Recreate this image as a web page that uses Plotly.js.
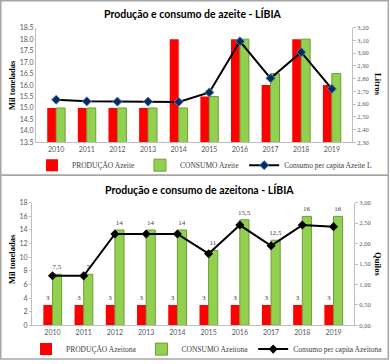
<!DOCTYPE html>
<html>
<head>
<meta charset="utf-8">
<script src="https://cdn.plot.ly/plotly-3.0.1.min.js"></script>
<style>
html,body{margin:0;padding:0;background:#fff;}
#chart{width:390px;height:364px;}
</style>
</head>
<body>
<div id="chart"></div>
<script>
// ---- Data ----
const years = ["2010","2011","2012","2013","2014","2015","2016","2017","2018","2019"];

// Azeite (olive oil)
const producaoAzeite = [15, 15, 15, 15, 18, 15.5, 18, 16, 18, 16];
const consumoAzeite = [15, 15, 15, 15, 15, 15.5, 18, 16.5, 18, 16.5];
const perCapitaAzeite = [2.635, 2.622, 2.62, 2.62, 2.618, 2.692, 3.093, 2.803, 3.008, 2.72];
const azeiteLeftTicks = [13.5, 14.0, 14.5, 15.0, 15.5, 16.0, 16.5, 17.0, 17.5, 18.0, 18.5];

// Azeitona (olives)
const producaoAzeitona = [3, 3, 3, 3, 3, 3, 3, 3, 3, 3];
const consumoAzeitona = [7.5, 7.5, 14, 14, 14, 11, 15.5, 12.5, 16, 16];
const producaoAzeitonaLabels = ["3","3","3","3","3","3","3","3","3","3"];
const consumoAzeitonaLabels = ["7,5","7","14","14","14","11","15,5","12,5","16","16"];
const perCapitaAzeitona = [1.215, 1.212, 2.237, 2.237, 2.235, 1.754, 2.454, 1.947, 2.454, 2.415];

// ---- Styles ----
const W = 390, H = 364;
const px = v => v / W;
const py = v => 1 - v / H;
const RED = '#ff0000', GREEN = '#92d050', GREEN_EDGE = '#6f9c35';
const SANS = 'Lato, "Liberation Sans", sans-serif';
const SERIF = '"Liberation Serif", "DejaVu Serif", serif';

const traces = [
  {type:'bar', name:'PRODUÇÃO Azeite', x:years, y:producaoAzeite, xaxis:'x', yaxis:'y',
   marker:{color:RED}, legend:'legend', hoverinfo:'skip'},
  {type:'bar', name:'CONSUMO Azeite', x:years, y:consumoAzeite, xaxis:'x', yaxis:'y',
   marker:{color:GREEN, line:{color:GREEN_EDGE, width:1}}, legend:'legend', hoverinfo:'skip'},
  {type:'scatter', mode:'lines+markers', name:'Consumo per capita Azeite L', x:years, y:perCapitaAzeite,
   xaxis:'x', yaxis:'y2', line:{color:'#000000', width:2},
   marker:{symbol:'diamond', size:7, color:'#0b2a5c', line:{color:'#4f81bd', width:1}},
   legend:'legend', hoverinfo:'skip'},

  {type:'bar', name:'PRODUÇÃO Azeitona', x:years, y:producaoAzeitona, xaxis:'x2', yaxis:'y3',
   marker:{color:RED}, text:producaoAzeitonaLabels, textposition:'outside', constraintext:'none',
   cliponaxis:false, textfont:{family:SERIF, size:7, color:'#404040'}, legend:'legend2', hoverinfo:'skip'},
  {type:'bar', name:'CONSUMO Azeitona', x:years, y:consumoAzeitona, xaxis:'x2', yaxis:'y3',
   marker:{color:GREEN, line:{color:GREEN_EDGE, width:1}}, text:consumoAzeitonaLabels,
   textposition:'outside', constraintext:'none', cliponaxis:false,
   textfont:{family:SERIF, size:7, color:'#404040'}, legend:'legend2', hoverinfo:'skip'},
  {type:'scatter', mode:'lines+markers', name:'Consumo per capita Azeitona', x:years, y:perCapitaAzeitona,
   xaxis:'x2', yaxis:'y4', line:{color:'#000000', width:2},
   marker:{symbol:'diamond', size:7, color:'#000000'}, legend:'legend2', hoverinfo:'skip'}
];

const axisLine = '#bfbfbf';
const tickFontL = {family:SANS, size:7, color:'#595959'};
const tickFontR = {family:SERIF, size:6.5, color:'#595959'};

const layout = {
  width:W, height:H, margin:{l:0,r:0,t:0,b:0},
  paper_bgcolor:'#ffffff', plot_bgcolor:'#ffffff',
  separators:',.',
  barmode:'group', bargap:0.415, bargroupgap:0,
  showlegend:true,
  xaxis:{domain:[px(36), px(352)], anchor:'y', type:'category', showgrid:false,
    showline:true, linecolor:axisLine, linewidth:1, ticks:'', tickfont:tickFontL, fixedrange:true},
  yaxis:{domain:[py(144), py(28)], anchor:'x', range:[13.5,18.5], tickvals:azeiteLeftTicks,
    ticktext:azeiteLeftTicks.map(v=>v.toFixed(1)), showgrid:false, zeroline:false,
    showline:true, linecolor:axisLine, linewidth:1, ticks:'', tickfont:tickFontL, fixedrange:true},
  yaxis2:{overlaying:'y', side:'right', anchor:'x', range:[2.3,3.2], dtick:0.1, tick0:2.3,
    tickformat:'.2f', showgrid:false, zeroline:false, showline:true, linecolor:axisLine, linewidth:1,
    ticks:'outside', ticklen:3, tickcolor:axisLine, tickfont:tickFontR, fixedrange:true},

  xaxis2:{domain:[px(32), px(354)], anchor:'y3', type:'category', showgrid:false,
    showline:true, linecolor:axisLine, linewidth:1, ticks:'', tickfont:tickFontL, fixedrange:true},
  yaxis3:{domain:[py(329), py(205)], anchor:'x2', range:[0,18], dtick:2, showgrid:false, zeroline:false,
    showline:true, linecolor:axisLine, linewidth:1, ticks:'outside', ticklen:2, tickcolor:axisLine,
    tickfont:tickFontL, fixedrange:true},
  yaxis4:{overlaying:'y3', side:'right', anchor:'x2', range:[0,3], dtick:0.5, tickformat:'.2f',
    showgrid:false, zeroline:false, showline:true, linecolor:axisLine, linewidth:1,
    ticks:'outside', ticklen:3, tickcolor:axisLine, tickfont:tickFontR, fixedrange:true},

  legend:{orientation:'h', x:px(205), xanchor:'center', y:py(167), yanchor:'middle',
    font:{family:SERIF, size:7.5, color:'#404040'}, bgcolor:'rgba(0,0,0,0)', itemwidth:30, tracegroupgap:0},
  legend2:{orientation:'h', x:px(207), xanchor:'center', y:py(353), yanchor:'middle',
    font:{family:SERIF, size:7.5, color:'#404040'}, bgcolor:'rgba(0,0,0,0)', itemwidth:30, tracegroupgap:0},

  annotations:[
    {text:'<b>Produção e consumo de azeite - LÍBIA</b>', xref:'paper', yref:'paper',
     x:px(193), y:py(14), xanchor:'center', yanchor:'middle', showarrow:false,
     font:{family:SANS, size:10.5, color:'#000000'}},
    {text:'<b>Produção e consumo de azeitona - LÍBIA</b>', xref:'paper', yref:'paper',
     x:px(199), y:py(192), xanchor:'center', yanchor:'middle', showarrow:false,
     font:{family:SANS, size:10.5, color:'#000000'}},
    {text:'<b>Mil toneladas</b>', xref:'paper', yref:'paper', x:px(12), y:py(86),
     xanchor:'center', yanchor:'middle', textangle:-90, showarrow:false,
     font:{family:SERIF, size:8.5, color:'#000000'}},
    {text:'<b>Litros</b>', xref:'paper', yref:'paper', x:px(378), y:py(85),
     xanchor:'center', yanchor:'middle', textangle:90, showarrow:false,
     font:{family:SERIF, size:8.5, color:'#000000'}},
    {text:'<b>Mil toneladas</b>', xref:'paper', yref:'paper', x:px(12), y:py(262),
     xanchor:'center', yanchor:'middle', textangle:-90, showarrow:false,
     font:{family:SERIF, size:8.5, color:'#000000'}},
    {text:'<b>Quilos</b>', xref:'paper', yref:'paper', x:px(378), y:py(267),
     xanchor:'center', yanchor:'middle', textangle:90, showarrow:false,
     font:{family:SERIF, size:8.5, color:'#000000'}}
  ],
  shapes:[
    {type:'rect', xref:'paper', yref:'paper', x0:px(0.75), x1:px(388.3), y0:py(177.3), y1:py(0.75),
     line:{color:'#a6a6a6', width:1.5}, fillcolor:'rgba(0,0,0,0)'},
    {type:'rect', xref:'paper', yref:'paper', x0:px(0.75), x1:px(388.3), y0:py(363), y1:py(177.3),
     line:{color:'#a6a6a6', width:1.5}, fillcolor:'rgba(0,0,0,0)'}
  ]
};

Plotly.newPlot('chart', traces, layout, {displayModeBar:false, staticPlot:true});
</script>
</body>
</html>
